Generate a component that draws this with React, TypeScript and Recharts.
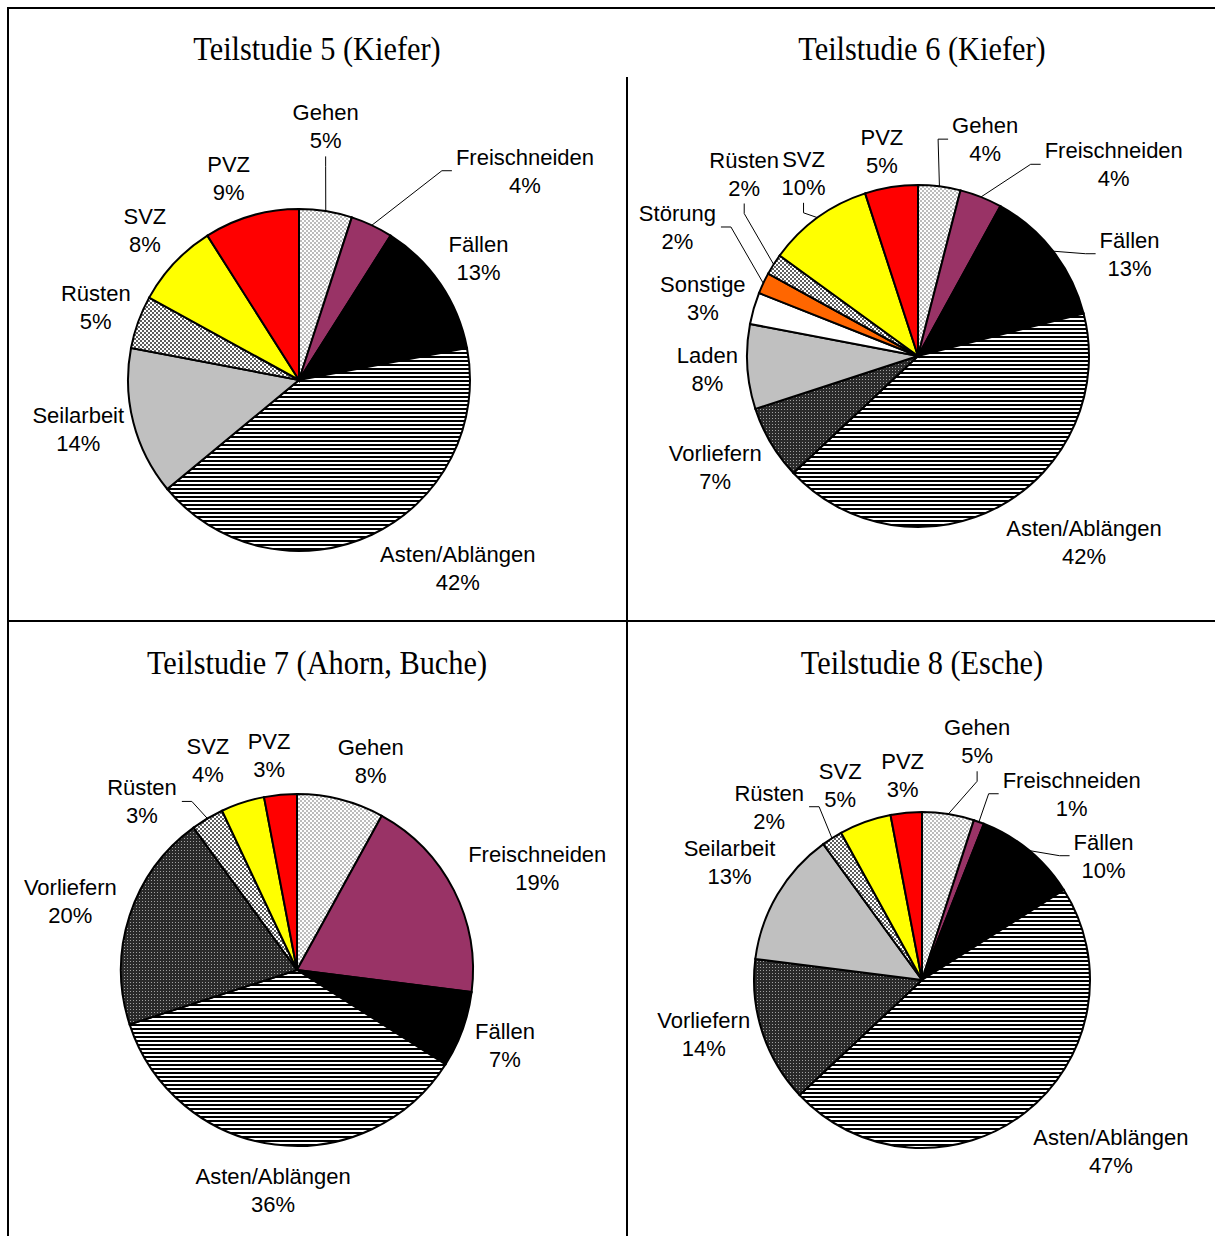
import React from "react";
import { Cell, Pie, PieChart } from "recharts";

// Teilstudie 5 (Kiefer)
const ts5Names = ["Gehen", "Freischneiden", "Fällen", "Asten/Ablängen", "Seilarbeit", "Rüsten", "SVZ", "PVZ"];
const ts5Values = [5, 4, 13, 42, 14, 5, 8, 9];

// Teilstudie 6 (Kiefer)
const ts6Names = ["Gehen", "Freischneiden", "Fällen", "Asten/Ablängen", "Vorliefern", "Laden", "Sonstige", "Störung", "Rüsten", "SVZ", "PVZ"];
const ts6Values = [4, 4, 13, 42, 7, 8, 3, 2, 2, 10, 5];

// Teilstudie 7 (Ahorn, Buche)
const ts7Names = ["Gehen", "Freischneiden", "Fällen", "Asten/Ablängen", "Vorliefern", "Rüsten", "SVZ", "PVZ"];
const ts7Values = [8, 19, 7, 36, 20, 3, 4, 3];

// Teilstudie 8 (Esche)
const ts8Names = ["Gehen", "Freischneiden", "Fällen", "Asten/Ablängen", "Vorliefern", "Seilarbeit", "Rüsten", "SVZ", "PVZ"];
const ts8Values = [5, 1, 10, 47, 14, 13, 2, 5, 3];

type Leader = "" | "left" | "right" | "bottom";

type PieSpec = {
  id: string;
  title: string;
  names: string[];
  values: number[];
  cx: number;
  cy: number;
  r: number;
  titleX: number;
  titleY: number;
  // label placement: distance from centre and angle shift from the slice middle
  dist: number[];
  turn: number[];
  leader: Leader[];
};

const specs: PieSpec[] = [
  {
    id: "ts5",
    title: "Teilstudie 5 (Kiefer)",
    names: ts5Names,
    values: ts5Values,
    cx: 299,
    cy: 380,
    r: 171,
    titleX: 317,
    titleY: 50,
    dist: [255, 308, 217, 246, 226, 216, 215, 214],
    turn: [3, -22, 0, 15, -2, 0, -1, 3],
    leader: ["bottom", "left", "", "", "", "", "", ""],
  },
  {
    id: "ts6",
    title: "Teilstudie 6 (Kiefer)",
    names: ts6Names,
    values: ts6Values,
    cx: 918,
    cy: 356,
    r: 171,
    titleX: 922,
    titleY: 50,
    dist: [227, 274, 235, 249, 231, 211, 223, 273, 252, 216, 208],
    turn: [-10, -24, -12, 13, -2, 0, 1, -3, -14, -4, 1],
    leader: ["left", "left", "left", "", "", "", "", "right", "bottom", "bottom", ""],
  },
  {
    id: "ts7",
    title: "Teilstudie 7 (Ahorn, Buche)",
    names: ts7Names,
    values: ts7Values,
    cx: 297,
    cy: 970,
    r: 176,
    titleX: 317,
    titleY: 664,
    dist: [222, 261, 221, 221, 237, 229, 228, 217],
    turn: [-5, -4, 0, 1, 1, 12, 5, 2],
    leader: ["", "", "", "", "", "right", "", ""],
  },
  {
    id: "ts8",
    title: "Teilstudie 8 (Esche)",
    names: ts8Names,
    values: ts8Values,
    cx: 922,
    cy: 980,
    r: 168,
    titleX: 922,
    titleY: 664,
    dist: [245, 239, 220, 255, 225, 226, 231, 211, 206],
    turn: [-4, -19, -16, 10, -4, -1, 9, 3, 0],
    leader: ["bottom", "left", "left", "", "", "", "right", "", ""],
  },
];

const fills: Record<string, string> = {
  Gehen: "url(#pGehen)",
  Freischneiden: "#993366",
  "Fällen": "#000000",
  "Asten/Ablängen": "url(#pAsten)",
  Seilarbeit: "#c0c0c0",
  Laden: "#c0c0c0",
  "Rüsten": "url(#pRuesten)",
  SVZ: "#ffff00",
  PVZ: "#ff0000",
  Vorliefern: "url(#pVorliefern)",
  Sonstige: "#ffffff",
  "Störung": "#ff6600",
};

const LABEL_FONT = '"Liberation Sans", Arial, sans-serif';
const LABEL_SIZE = 22;
const RAD = Math.PI / 180;

let measureCtx: CanvasRenderingContext2D | null = null;
function textWidth(s: string) {
  if (!measureCtx && typeof document !== "undefined") {
    measureCtx = document.createElement("canvas").getContext("2d");
  }
  if (!measureCtx) return s.length * 11.5;
  measureCtx.font = `${LABEL_SIZE}px ${LABEL_FONT}`;
  return measureCtx.measureText(s).width;
}

function makeLabel(spec: PieSpec) {
  return (props: any) => {
    const { midAngle, index } = props;
    const a = (midAngle + spec.turn[index]) * RAD;
    const lx = spec.cx + spec.dist[index] * Math.cos(a);
    const ly = spec.cy - spec.dist[index] * Math.sin(a);
    const name = spec.names[index];
    const pct = `${spec.values[index]}%`;
    const hw = Math.max(textWidth(name), textWidth(pct)) / 2;

    const m = midAngle * RAD;
    const ax = spec.cx + spec.r * Math.cos(m);
    const ay = spec.cy - spec.r * Math.sin(m);

    let pts = "";
    const kind = spec.leader[index];
    if (kind === "left") {
      const ex = lx - hw - 4;
      pts = `${ex},${ly} ${ex - 10},${ly} ${ax},${ay}`;
    } else if (kind === "right") {
      const ex = lx + hw + 5;
      pts = `${ex},${ly} ${ex + 10},${ly} ${ax},${ay}`;
    } else if (kind === "bottom") {
      pts = `${lx},${ly + 30} ${lx},${ly + 40} ${ax},${ay}`;
    }

    return (
      <g key={`${spec.id}-lbl-${index}`}>
        {pts && <polyline points={pts} fill="none" stroke="#000" strokeWidth={1} />}
        <text fontFamily={LABEL_FONT} fontSize={LABEL_SIZE} fill="#000" textAnchor="middle">
          <tspan x={lx} y={ly - 6}>{name}</tspan>
          <tspan x={lx} y={ly + 22}>{pct}</tspan>
        </text>
      </g>
    );
  };
}

const rule = (left: number, top: number, width: number, height: number) => (
  <div style={{ position: "absolute", left, top, width, height, background: "#000" }} />
);

export default function App() {
  return (
    <div
      style={{
        position: "absolute",
        left: 0,
        top: 0,
        width: 1215,
        height: 1236,
        background: "#fff",
        overflow: "hidden",
      }}
    >
      <svg width={0} height={0} style={{ position: "absolute" }}>
        <defs>
          <pattern id="pGehen" width={4} height={4} patternUnits="userSpaceOnUse">
            <rect width={4} height={4} fill="#ffffff" />
            <rect width={2} height={2} fill="#bcbcbc" />
            <rect x={2} y={2} width={2} height={2} fill="#bcbcbc" />
          </pattern>
          <pattern id="pRuesten" width={4} height={4} patternUnits="userSpaceOnUse">
            <rect width={4} height={4} fill="#ffffff" />
            <rect width={2} height={2} fill="#5e5e5e" />
            <rect x={2} y={2} width={2} height={2} fill="#5e5e5e" />
          </pattern>
          <pattern id="pVorliefern" width={3} height={3} patternUnits="userSpaceOnUse">
            <rect width={3} height={3} fill="#2a2a2a" />
            <rect x={1} y={1} width={1} height={1} fill="#a0a0a0" />
          </pattern>
          <pattern id="pAsten" width={4} height={4} patternUnits="userSpaceOnUse">
            <rect width={4} height={4} fill="#ffffff" />
            <rect width={4} height={2} fill="#000000" />
          </pattern>
        </defs>
      </svg>

      <div style={{ position: "absolute", left: 0, top: 0 }}>
        <PieChart width={1215} height={1236} margin={{ top: 0, right: 0, bottom: 0, left: 0 }}>
          {specs.map((spec) => (
            <Pie
              key={spec.id}
              data={spec.names.map((n, i) => ({ name: n, value: spec.values[i] }))}
              dataKey="value"
              nameKey="name"
              cx={spec.cx}
              cy={spec.cy}
              outerRadius={spec.r}
              startAngle={90}
              endAngle={-270}
              stroke="#000"
              strokeWidth={2}
              label={makeLabel(spec)}
              labelLine={false}
              isAnimationActive={false}
            >
              {spec.names.map((n) => (
                <Cell key={`${spec.id}-${n}`} fill={fills[n]} />
              ))}
            </Pie>
          ))}
        </PieChart>
      </div>

      {specs.map((spec) => (
        <div
          key={`${spec.id}-title`}
          style={{
            position: "absolute",
            left: spec.titleX - 250,
            top: spec.titleY - 17,
            width: 500,
            textAlign: "center",
            fontFamily: '"Times New Roman", "Liberation Serif", serif',
            fontSize: 33,
            lineHeight: "33px",
            color: "#000",
            transform: "scaleX(0.92)",
            whiteSpace: "nowrap",
          }}
        >
          {spec.title}
        </div>
      ))}

      {rule(7, 7, 1208, 2)}
      {rule(7, 7, 2, 1229)}
      {rule(7, 620, 1208, 2)}
      {rule(626, 77, 2, 1159)}
    </div>
  );
}
